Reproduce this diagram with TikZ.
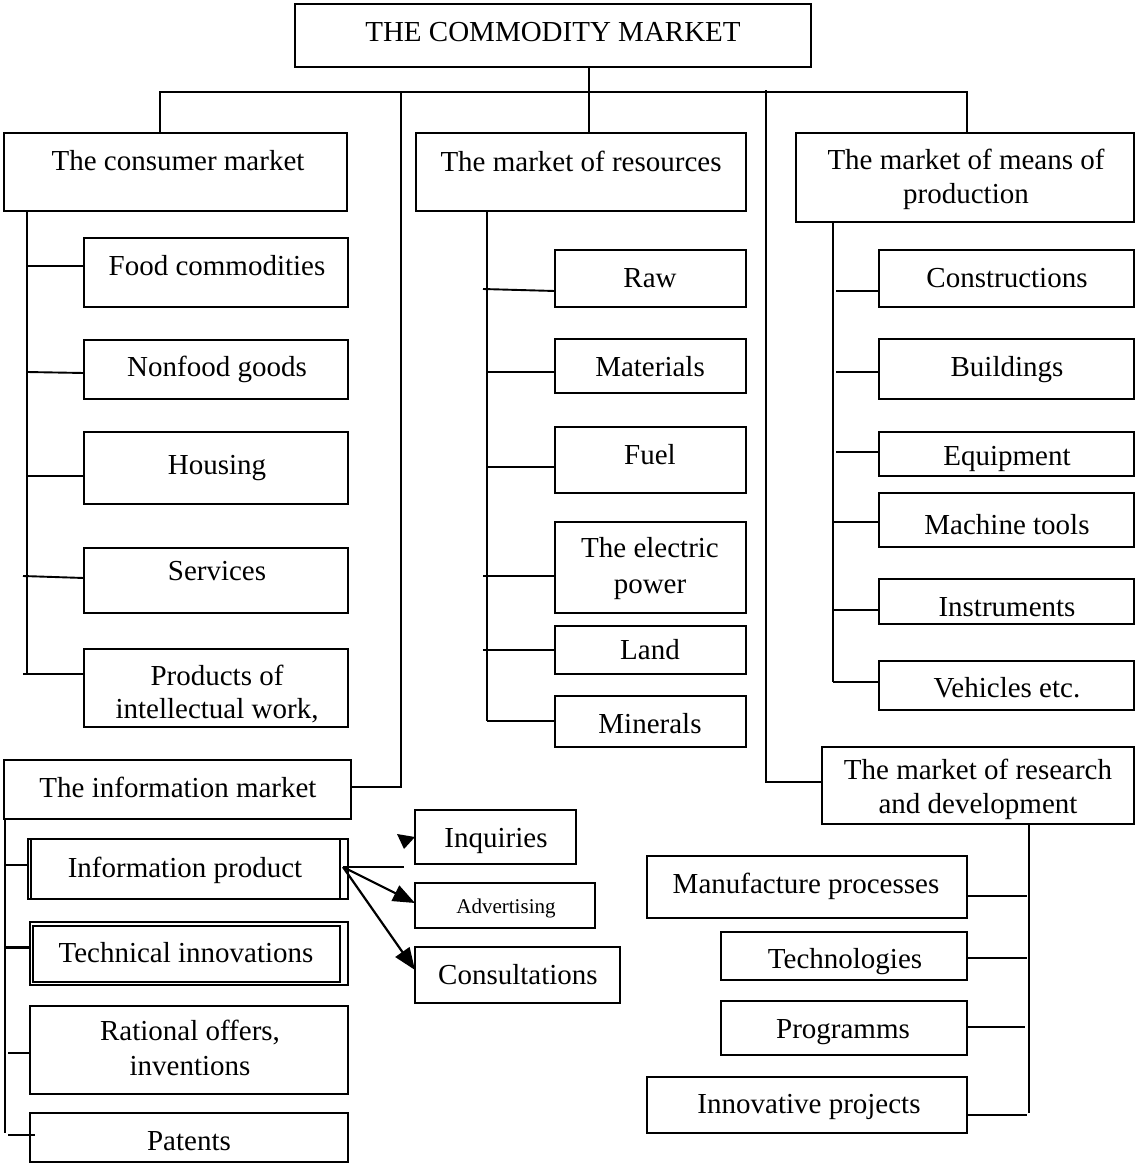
\documentclass[tikz,border=0pt]{standalone}
\usepackage{fontspec}
\setmainfont{Liberation Serif}
\usetikzlibrary{arrows.meta,calc}
\tikzset{
  bx/.style={draw, rectangle, inner sep=0pt, outer sep=0pt},
  txt/.style={anchor=base, inner sep=0pt, outer sep=0pt, font=\fontsize{29}{34}\selectfont},
  smalltxt/.style={anchor=base, inner sep=0pt, outer sep=0pt, font=\fontsize{21}{25}\selectfont},
  arr/.style={-{Triangle[length=22pt,width=17pt]}, line width=2.2pt},
}
% box: name, x1, y1, x2, y2 (pixels, y downwards)
\newcommand\mybox[5]{\node[bx, minimum width={(#4)-(#2)}, minimum height={(#5)-(#3)}] (#1) at ({((#2)+(#4))/2},{((#3)+(#5))/2}) {};}
% text: name, x, baseline, text
\newcommand\mytext[4]{\node[txt] (#1) at (#2,#3) {#4};}
% branch from a spine on the left to a box west side: spine, box, dy start, dy end, x offset of start
\newcommand\lbranch[5]{\draw ($(#1 |- #2.west)+(#5,#3)$) -- ($(#2.west)+(0,#4)$);}
% branch from a box east side to a spine on the right: spine, box, dy, x offset of end
\newcommand\rbranch[4]{\draw ($(#2.east)+(0,#3)$) -- ($(#1 |- #2.east)+(#4,#3)$);}
\begin{document}
\begin{tikzpicture}[x=1pt, y=-1pt, line width=1.9pt, line join=miter]
\useasboundingbox (0,0) rectangle (1135,1164);

% ---------- boxes ----------
\mybox{top}{295}{4}{811}{67}
\mybox{cons}{4}{133}{347}{211}
\mybox{res}{416}{133}{746}{211}
\mybox{means}{796}{133}{1134}{222}

\mybox{food}{84}{238}{348}{307}
\mybox{nonfood}{84}{340}{348}{399}
\mybox{housing}{84}{432}{348}{504}
\mybox{services}{84}{548}{348}{613}
\mybox{products}{84}{649}{348}{727}

\mybox{raw}{555}{250}{746}{307}
\mybox{mat}{555}{339}{746}{393}
\mybox{fuel}{555}{427}{746}{493}
\mybox{elec}{555}{522}{746}{613}
\mybox{land}{555}{626}{746}{674}
\mybox{minerals}{555}{696}{746}{747}

\mybox{constr}{879}{250}{1134}{307}
\mybox{build}{879}{339}{1134}{399}
\mybox{equip}{879}{432}{1134}{476}
\mybox{mach}{879}{493}{1134}{547}
\mybox{instr}{879}{579}{1134}{624}
\mybox{veh}{879}{661}{1134}{710}

\mybox{research}{822}{747}{1134}{824}
\mybox{manuf}{647}{856}{967}{918}
\mybox{tech}{721}{932}{967}{980}
\mybox{progr}{721}{1001}{967}{1055}
\mybox{innov}{647}{1077}{967}{1133}

\mybox{info}{4}{760}{351}{819}
\mybox{prod}{28}{839}{348}{899}
\mybox{prodin}{31}{839}{340}{899}
\mybox{techinn}{30}{922}{348}{985}
\mybox{techinnin}{33}{926}{340}{982}
\mybox{rational}{30}{1006}{348}{1094}
\mybox{patents}{30}{1113}{348}{1162}

\mybox{inq}{415}{810}{576}{864}
\mybox{adv}{415}{883}{595}{928}
\mybox{consult}{415}{947}{620}{1003}

% ---------- texts ----------
\mytext{t0}{553}{42}{THE COMMODITY MARKET}
\mytext{t1}{178}{170}{The consumer market}
\mytext{t2}{581}{171}{The market of resources}
\mytext{t3a}{966}{169}{The market of means of}
\mytext{t3b}{966}{203}{production}

\mytext{tf}{217}{275}{Food commodities}
\mytext{tn}{217}{376}{Nonfood goods}
\mytext{th}{217}{474}{Housing}
\mytext{ts}{217}{580}{Services}
\mytext{tp1}{217}{685}{Products of}
\mytext{tp2}{217}{718}{intellectual work,}

\mytext{traw}{650}{287}{Raw}
\mytext{tmat}{650}{376}{Materials}
\mytext{tfuel}{650}{464}{Fuel}
\mytext{tel1}{650}{557}{The electric}
\mytext{tel2}{650}{593}{power}
\mytext{tland}{650}{659}{Land}
\mytext{tmin}{650}{733}{Minerals}

\mytext{tcon}{1007}{287}{Constructions}
\mytext{tbui}{1007}{376}{Buildings}
\mytext{tequ}{1007}{465}{Equipment}
\mytext{tmac}{1007}{534}{Machine tools}
\mytext{tins}{1007}{616}{Instruments}
\mytext{tveh}{1007}{697}{Vehicles etc.}

\mytext{trd1}{978}{779}{The market of research}
\mytext{trd2}{978}{813}{and development}
\mytext{tman}{806}{893}{Manufacture processes}
\mytext{ttec}{845}{968}{Technologies}
\mytext{tpro}{843}{1038}{Programms}
\mytext{tinn}{809}{1113}{Innovative projects}

\mytext{tinf}{178}{797}{The information market}
\mytext{tipr}{185}{877}{Information product}
\mytext{ttin}{186}{962}{Technical innovations}
\mytext{tra1}{190}{1040}{Rational offers,}
\mytext{tra2}{190}{1075}{inventions}
\mytext{tpat}{189}{1150}{Patents}

\mytext{tinq}{496}{847}{Inquiries}
\node[smalltxt] (tadv) at (506,913) {Advertising};
\mytext{tcns}{518}{984}{Consultations}

% ---------- helper coordinates ----------
\coordinate (cA) at (160,92);
\coordinate (cB) at (967,92);
\coordinate (cR) at (589,92);
\coordinate (cC) at (401,92);
\coordinate (cD) at (401,787);
\coordinate (cE) at (766,90);
\coordinate (cF) at (766,782);
\coordinate (sC) at (27,0);
\coordinate (sR) at (487,0);
\coordinate (sM) at (833,0);
\coordinate (sD) at (1029,0);
\coordinate (sI) at (5,0);
\coordinate (pj) at (343,867);
\coordinate (inqend) at (404,867);

% ---------- top level connectors ----------
\draw (cons.north -| cA) -- (cA) -- (cB) -- (means.north -| cB);
\draw (top.south -| cR) -- (res.north -| cR);
\draw (cC) -- (cD) -- (info.east |- cD);
\draw (cE) -- (cF) -- (research.west |- cF);

% ---------- consumer market ----------
\draw (cons.south -| sC) -- ($(sC |- products.west)+(0,-14)$);
\lbranch{sC}{food}{-6.5}{-6.5}{0}
\lbranch{sC}{nonfood}{2.5}{3.5}{0}
\lbranch{sC}{housing}{8}{8}{0}
\lbranch{sC}{services}{-4.5}{-2.5}{-4}
\lbranch{sC}{products}{-14}{-14}{-4}

% ---------- resources ----------
\draw (res.south -| sR) -- ($(sR |- minerals.west)+(0,-0.5)$);
\lbranch{sR}{raw}{10.5}{12.5}{-4}
\lbranch{sR}{mat}{6}{6}{0}
\lbranch{sR}{fuel}{7}{7}{0}
\lbranch{sR}{elec}{8.5}{8.5}{-4}
\lbranch{sR}{land}{0}{0}{-4}
\lbranch{sR}{minerals}{-0.5}{-0.5}{0}

% ---------- means of production ----------
\draw (means.south -| sM) -- ($(sM |- veh.west)+(0,-3.5)$);
\lbranch{sM}{constr}{12.5}{12.5}{3}
\lbranch{sM}{build}{3}{3}{3}
\lbranch{sM}{equip}{-2}{-2}{3}
\lbranch{sM}{mach}{2}{2}{0}
\lbranch{sM}{instr}{8.5}{8.5}{0}
\lbranch{sM}{veh}{-3.5}{-3.5}{0}

% ---------- research and development ----------
\draw (research.south -| sD) -- ($(sD |- innov.east)+(0,8)$);
\rbranch{sD}{manuf}{9}{-2}
\rbranch{sD}{tech}{2}{-2}
\rbranch{sD}{progr}{-1}{-4}
\rbranch{sD}{innov}{10}{-2}

% ---------- information market ----------
\draw (info.south -| sI) -- ($(sI |- patents.west)+(0,-4.5)$);
\lbranch{sI}{prod}{-4}{-4}{0}
\draw[line width=3pt] ($(sI |- techinn.west)+(0,-6.5)$) -- ($(techinn.west)+(0,-6.5)$);
\lbranch{sI}{rational}{3}{3}{3}
\draw ($(sI |- patents.west)+(3,-2.5)$) -- ($(patents.west)+(5,-2.5)$);

% ---------- information product arrows ----------
\draw (pj) -- (inqend);
\fill (397,834) -- (415,837) -- (404,849) -- cycle;
\draw[arr] (pj) -- ($(adv.west)+(0,-2.5)$);
\draw[arr] (pj) -- ($(consult.west)+(0,-5)$);
\end{tikzpicture}
\end{document}
